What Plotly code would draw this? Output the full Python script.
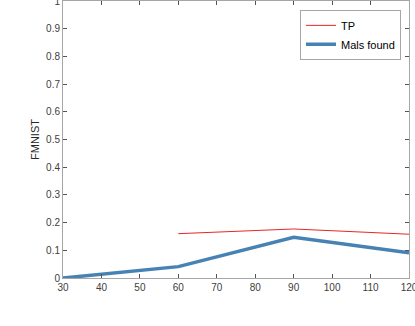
import plotly.graph_objects as go

# values
x_vals = [30, 60, 90, 120]
tp = [None, 0.160, 0.177, 0.158]
mals_found = [0.0, 0.041, 0.147, 0.091]

x_ticks = [30, 40, 50, 60, 70, 80, 90, 100, 110, 120]
y_ticks = [0, 0.1, 0.2, 0.3, 0.4, 0.5, 0.6, 0.7, 0.8, 0.9, 1]
y_tick_text = ["0", "0.1", "0.2", "0.3", "0.4", "0.5", "0.6", "0.7", "0.8", "0.9", "1"]

fig = go.Figure()
fig.add_trace(go.Scatter(x=x_vals, y=tp, mode="lines", name="TP",
                         line=dict(color="#e8262a", width=1)))
fig.add_trace(go.Scatter(x=x_vals, y=mals_found, mode="lines", name="Mals found",
                         line=dict(color="#4682b4", width=3.5)))

axis_style = dict(
    showline=True, linecolor="#a6a6a6", linewidth=1,
    mirror="ticks", ticks="inside", ticklen=4, tickcolor="#555555",
    showgrid=False, zeroline=False, automargin=False,
    ticklabeloverflow="allow",
    tickfont=dict(family="Liberation Sans, Arial", size=10, color="#404040"),
)

fig.update_layout(
    width=415, height=326,
    margin=dict(l=63, r=6, t=1, b=48),
    plot_bgcolor="white", paper_bgcolor="white",
    xaxis=dict(range=[30, 120], tickvals=x_ticks, **axis_style),
    yaxis=dict(range=[0, 1], tickvals=y_ticks, ticktext=y_tick_text,
               title=dict(text="FMNIST", standoff=4,
                          font=dict(family="Liberation Sans, Arial", size=11, color="#262626")),
               **axis_style),
    legend=dict(x=0.685, y=0.968, xanchor="left", yanchor="top",
                bordercolor="#a6a6a6", borderwidth=1, bgcolor="white",
                itemwidth=30, tracegroupgap=0,
                font=dict(family="Liberation Sans, Arial", size=11, color="black")),
    showlegend=True,
)

# page body has a default 8px margin; drop it so the figure sits at the corner
fig.write_html("out.html", config={"displayModeBar": False},
               post_script="document.body.style.margin='0';")
